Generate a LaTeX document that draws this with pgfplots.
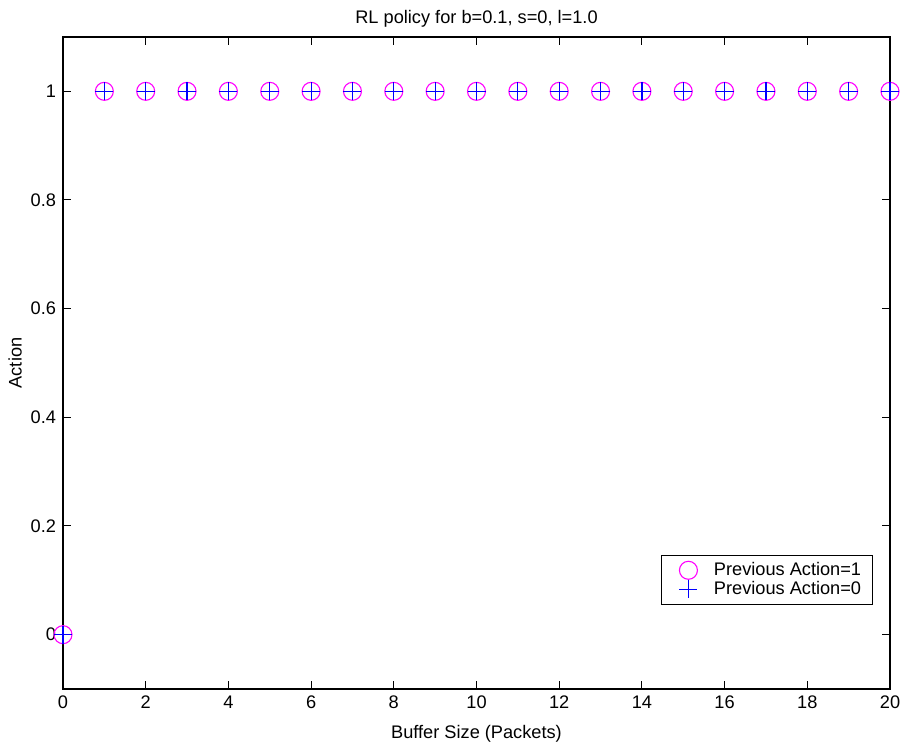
\documentclass[border=0pt]{standalone}
\usepackage{fontspec}
\setmainfont{Liberation Sans}
\usepackage{pgfplots}
\pgfplotsset{compat=1.18}
\definecolor{mymag}{RGB}{255,0,255}
\definecolor{myblue}{RGB}{0,0,255}
\begin{document}
\begin{tikzpicture}
\useasboundingbox (-31.5pt,-27.5pt) rectangle (420.5pt,344.5pt);
\begin{axis}[
  at={(0,0)}, anchor=south west,
  scale only axis, width=413.5pt, height=326pt,
  xmin=0, xmax=20, ymin=-0.1, ymax=1.1,
  xtick={0,2,...,20}, ytick={0,0.2,0.4,0.6,0.8,1},
  yticklabels={0,0.2,0.4,0.6,0.8,1},
  tick align=inside, major tick length=4pt,
  tick style={black, line width=0.5pt},
  axis line style={line width=0.6pt},
  font=\fontsize{9.1}{10}\selectfont,
  /pgf/number format/assume math mode=true,
  title={RL policy for b=0.1, s=0, l=1.0},
  title style={yshift=-4.5pt},
  xlabel={Buffer Size (Packets)},
  ylabel={Action},
  xlabel style={yshift=-1.5pt},
  ylabel style={yshift=-2.5pt},
  clip=false,
  legend style={at={(0.979,0.206)}, anchor=north east, draw=black, line width=0.5pt,
    font=\fontsize{9.1}{9.5}\selectfont, inner xsep=3.5pt, inner ysep=1.5pt, row sep=-2.5pt},
  legend cell align=left,
  legend image code/.code={\path (0pt,0pt) (20pt,0pt); \draw[#1] plot coordinates {(9.5pt,0pt)};},
]
\addplot[only marks, mark=o, mark size=4.5pt, color=mymag, mark options={solid, draw=mymag, line width=0.55pt}] coordinates {
(0,0) (1,1) (2,1) (3,1) (4,1) (5,1) (6,1) (7,1) (8,1) (9,1) (10,1)
(11,1) (12,1) (13,1) (14,1) (15,1) (16,1) (17,1) (18,1) (19,1) (20,1)};
\addlegendentry{Previous Action=1}
\addplot[only marks, mark=+, mark size=4.5pt, color=myblue, mark options={solid, draw=myblue, color=myblue, line width=0.6pt}] coordinates {
(0,0) (1,1) (2,1) (3,1) (4,1) (5,1) (6,1) (7,1) (8,1) (9,1) (10,1)
(11,1) (12,1) (13,1) (14,1) (15,1) (16,1) (17,1) (18,1) (19,1) (20,1)};
\addlegendentry{Previous Action=0}
\end{axis}
\end{tikzpicture}
\end{document}
